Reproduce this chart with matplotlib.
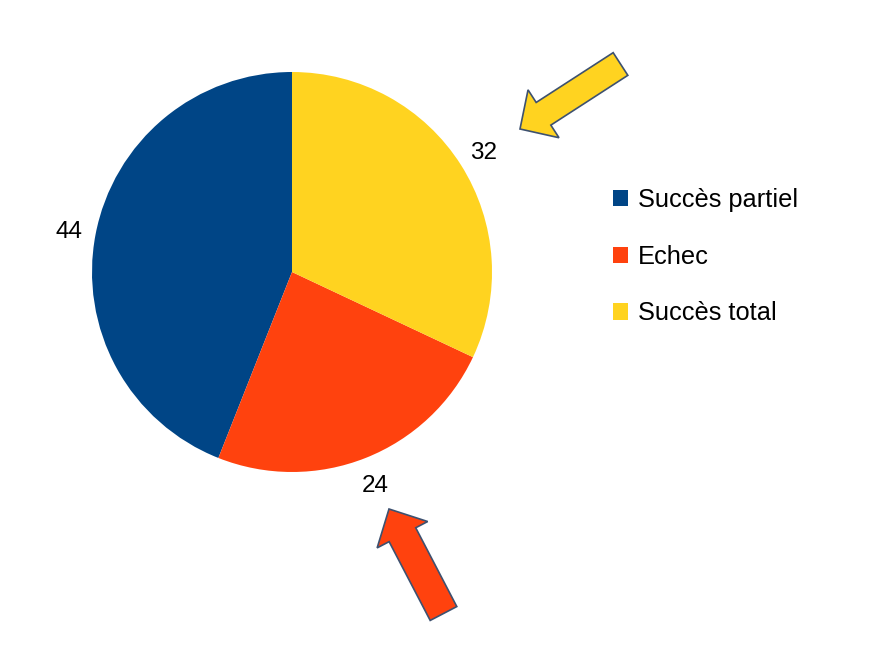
import numpy as np
import matplotlib
matplotlib.use("Agg")
import matplotlib.pyplot as plt
from matplotlib.patches import Patch, FancyArrow

plt.rcParams['font.family'] = ['Liberation Sans', 'DejaVu Sans']

# Données
categories = ['Succès partiel', 'Echec', 'Succès total']
valeurs = [44, 24, 32]
couleurs = ['#004586', '#ff420e', '#ffd320']

W, H = 870, 657
fig = plt.figure(figsize=(W / 100, H / 100), dpi=100)

# Camembert : centre (292, 272), rayon 200 px
cx, cy, r = 292, 272, 200
ax = fig.add_axes([(cx - r) / W, (H - cy - r) / H, 2 * r / W, 2 * r / H])
wedges, _ = ax.pie(valeurs, colors=couleurs, startangle=90, counterclock=True,
                   radius=1.0, wedgeprops=dict(linewidth=0))
ax.set_xlim(-1, 1)
ax.set_ylim(-1, 1)
ax.set_aspect('equal')
ax.axis('off')

# Etiquettes des valeurs
for w, v in zip(wedges, valeurs):
    ang = np.deg2rad((w.theta1 + w.theta2) / 2)
    ax.text(1.135 * np.cos(ang), 1.135 * np.sin(ang), str(v), fontsize=17.5,
            ha='center', va='center_baseline', color='black', clip_on=False)

# Légende
handles = [Patch(facecolor=c, edgecolor='none') for c in couleurs]
fig.legend(handles, categories, loc='upper left', bbox_to_anchor=(590 / W, 1 - 165 / H),
           frameon=False, fontsize=18.3, handlelength=0.6, handleheight=0.6,
           handletextpad=0.4, labelspacing=1.29)

# Flèches (coordonnées en pixels)
ov = fig.add_axes([0, 0, 1, 1], zorder=5)
ov.set_xlim(0, W)
ov.set_ylim(H, 0)
ov.axis('off')

def fleche(x0, y0, x1, y1, largeur, tete_l, tete_long, couleur):
    dx, dy = x1 - x0, y1 - y0
    ov.add_patch(FancyArrow(x0, y0, dx, dy, width=largeur, head_width=tete_l,
                            head_length=tete_long, length_includes_head=True,
                            facecolor=couleur, edgecolor='#3d5170', linewidth=1.2))

fleche(620.5, 64, 520, 129, 27, 57, 28, '#ffd320')
fleche(443.5, 613.5, 389, 509, 30, 57, 29, '#ff420e')

fig.savefig('out.png', dpi=100, facecolor='white')
